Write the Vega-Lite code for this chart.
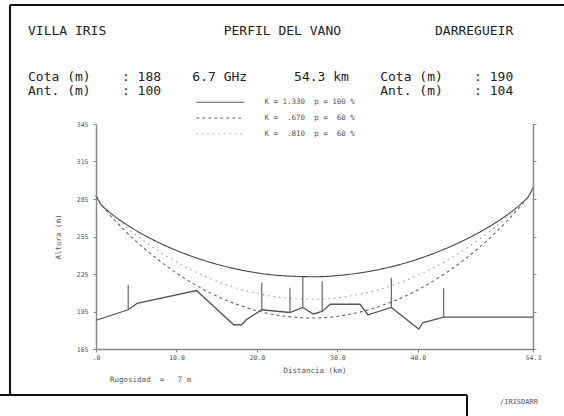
{
  "$schema": "https://vega.github.io/schema/vega-lite/v6.json",
  "width": 437,
  "height": 225,
  "autosize": {"type": "none"},
  "padding": {"left": 96, "top": 124, "right": 31, "bottom": 67},
  "background": "white",
  "config": {"view": {"stroke": null}, "font": "DejaVu Sans Mono"},
  "title": {
    "text": "VILLA\u00a0IRIS\u00a0\u00a0\u00a0\u00a0\u00a0\u00a0\u00a0\u00a0\u00a0\u00a0\u00a0\u00a0\u00a0\u00a0\u00a0PERFIL\u00a0DEL\u00a0VANO\u00a0\u00a0\u00a0\u00a0\u00a0\u00a0\u00a0\u00a0\u00a0\u00a0\u00a0\u00a0DARREGUEIR",
    "subtitle": [
      "Cota\u00a0(m)\u00a0\u00a0\u00a0\u00a0:\u00a0188\u00a0\u00a0\u00a0\u00a06.7\u00a0GHz\u00a0\u00a0\u00a0\u00a0\u00a0\u00a054.3\u00a0km\u00a0\u00a0\u00a0\u00a0Cota\u00a0(m)\u00a0\u00a0\u00a0\u00a0:\u00a0190",
      "Ant.\u00a0(m)\u00a0\u00a0\u00a0\u00a0:\u00a0100\u00a0\u00a0\u00a0\u00a0\u00a0\u00a0\u00a0\u00a0\u00a0\u00a0\u00a0\u00a0\u00a0\u00a0\u00a0\u00a0\u00a0\u00a0\u00a0\u00a0\u00a0\u00a0\u00a0\u00a0\u00a0\u00a0\u00a0\u00a0Ant.\u00a0(m)\u00a0\u00a0\u00a0\u00a0:\u00a0104"
    ],
    "anchor": "start",
    "frame": "group",
    "dx": -68,
    "dy": 94,
    "offset": 0,
    "font": "DejaVu Sans Mono",
    "fontSize": 13,
    "fontWeight": "normal",
    "color": "#222",
    "subtitleFont": "DejaVu Sans Mono",
    "subtitleFontSize": 13,
    "subtitleColor": "#222",
    "subtitleLineHeight": 14,
    "subtitlePadding": 33.5
  },
  "datasets": {
    "curves": [
      {"d": 0, "h": 288, "k": "1.330"}, {"d": 0.5, "h": 281.8, "k": "1.330"}, {"d": 1.5, "h": 275.4, "k": "1.330"},
      {"d": 3, "h": 268.0, "k": "1.330"}, {"d": 5, "h": 259.7, "k": "1.330"}, {"d": 8, "h": 249.5, "k": "1.330"},
      {"d": 11, "h": 241.3, "k": "1.330"}, {"d": 14, "h": 234.7, "k": "1.330"}, {"d": 17, "h": 229.6, "k": "1.330"},
      {"d": 20, "h": 225.9, "k": "1.330"}, {"d": 23, "h": 223.7, "k": "1.330"}, {"d": 27.15, "h": 222.8, "k": "1.330"},
      {"d": 31.3, "h": 224.6, "k": "1.330"}, {"d": 34.3, "h": 227.5, "k": "1.330"}, {"d": 37.3, "h": 231.8, "k": "1.330"},
      {"d": 40.3, "h": 237.6, "k": "1.330"}, {"d": 43.3, "h": 244.9, "k": "1.330"}, {"d": 46.3, "h": 253.8, "k": "1.330"},
      {"d": 49.3, "h": 264.6, "k": "1.330"}, {"d": 51.3, "h": 273.3, "k": "1.330"}, {"d": 52.8, "h": 281.1, "k": "1.330"},
      {"d": 53.8, "h": 287.7, "k": "1.330"}, {"d": 54.3, "h": 294, "k": "1.330"},
      {"d": 0, "h": 288, "k": ".670"}, {"d": 0.5, "h": 282.1, "k": ".670"}, {"d": 1.5, "h": 274.0, "k": ".670"},
      {"d": 3, "h": 263.5, "k": ".670"}, {"d": 5, "h": 251.1, "k": ".670"}, {"d": 8, "h": 235.0, "k": ".670"},
      {"d": 11, "h": 221.5, "k": ".670"}, {"d": 14, "h": 210.5, "k": ".670"}, {"d": 17, "h": 201.9, "k": ".670"},
      {"d": 20, "h": 195.6, "k": ".670"}, {"d": 23, "h": 191.6, "k": ".670"}, {"d": 27.15, "h": 189.8, "k": ".670"},
      {"d": 31.3, "h": 192.5, "k": ".670"}, {"d": 34.3, "h": 197.2, "k": ".670"}, {"d": 37.3, "h": 204.1, "k": ".670"},
      {"d": 40.3, "h": 213.4, "k": ".670"}, {"d": 43.3, "h": 225.1, "k": ".670"}, {"d": 46.3, "h": 239.2, "k": ".670"},
      {"d": 49.3, "h": 256.0, "k": ".670"}, {"d": 51.3, "h": 268.9, "k": ".670"}, {"d": 52.8, "h": 279.7, "k": ".670"},
      {"d": 53.8, "h": 288.0, "k": ".670"}, {"d": 54.3, "h": 294, "k": ".670"},
      {"d": 0, "h": 288, "k": ".810"}, {"d": 0.5, "h": 282.6, "k": ".810"}, {"d": 1.5, "h": 275.6, "k": ".810"},
      {"d": 3, "h": 266.7, "k": ".810"}, {"d": 5, "h": 256.1, "k": ".810"}, {"d": 8, "h": 242.5, "k": ".810"},
      {"d": 11, "h": 231.2, "k": ".810"}, {"d": 14, "h": 221.9, "k": ".810"}, {"d": 17, "h": 214.7, "k": ".810"},
      {"d": 20, "h": 209.5, "k": ".810"}, {"d": 23, "h": 206.2, "k": ".810"}, {"d": 27.15, "h": 204.8, "k": ".810"},
      {"d": 31.3, "h": 207.1, "k": ".810"}, {"d": 34.3, "h": 211.0, "k": ".810"}, {"d": 37.3, "h": 217.0, "k": ".810"},
      {"d": 40.3, "h": 224.8, "k": ".810"}, {"d": 43.3, "h": 234.7, "k": ".810"}, {"d": 46.3, "h": 246.7, "k": ".810"},
      {"d": 49.3, "h": 261.0, "k": ".810"}, {"d": 51.3, "h": 272.0, "k": ".810"}, {"d": 52.8, "h": 281.3, "k": ".810"},
      {"d": 53.8, "h": 288.5, "k": ".810"}, {"d": 54.3, "h": 294, "k": ".810"}
    ],
    "terrain": [
      {"d": 0, "h": 188}, {"d": 4.0, "h": 196.4}, {"d": 5.1, "h": 201.5}, {"d": 12.5, "h": 211.8},
      {"d": 17.1, "h": 184.4}, {"d": 18.1, "h": 184.4}, {"d": 18.7, "h": 188.5}, {"d": 20.6, "h": 196.4},
      {"d": 24.1, "h": 194.2}, {"d": 25.7, "h": 198.2}, {"d": 27.0, "h": 193.0}, {"d": 28.1, "h": 195.0},
      {"d": 29.1, "h": 200.8}, {"d": 32.8, "h": 200.8}, {"d": 33.8, "h": 192.4}, {"d": 36.7, "h": 198.2},
      {"d": 40.1, "h": 181.0}, {"d": 40.6, "h": 186.0}, {"d": 43.2, "h": 190.5}, {"d": 54.3, "h": 190.5}
    ],
    "spikes": [
      {"d": 4.0, "base": 196.4, "top": 216.4}, {"d": 20.6, "base": 196.4, "top": 218.2},
      {"d": 24.1, "base": 194.2, "top": 214.0}, {"d": 25.7, "base": 198.2, "top": 223.3},
      {"d": 28.1, "base": 195.0, "top": 219.0}, {"d": 36.7, "base": 198.2, "top": 222.0},
      {"d": 43.2, "base": 190.5, "top": 213.7}
    ],
    "one": [{"a": 1}],
    "rug": [{"note": "Rugosidad\u00a0\u00a0=\u00a0\u00a0\u00a07\u00a0m"}],
    "file": [{"note": "/IRISDARR"}]
  },
  "layer": [
    {
      "data": {"name": "curves"},
      "mark": {"type": "line", "interpolate": "monotone", "strokeWidth": 1.1},
      "encoding": {
        "x": {
          "field": "d", "type": "quantitative",
          "scale": {"domain": [0, 54.3], "nice": false, "zero": false},
          "axis": {
            "values": [0, 10, 20, 30, 40, 54.3],
            "labelExpr": "datum.value == 0 ? '\u00a0\u00a0.0' : format(datum.value, '.1f')",
            "title": "Distancia (km)",
            "titleFont": "DejaVu Sans Mono", "titleFontSize": 7.5, "titleFontWeight": "normal", "titleColor": "#555", "titlePadding": 6,
            "labelFont": "DejaVu Sans Mono", "labelFontSize": 6.5, "labelColor": "#555", "labelPadding": 2,
            "labelOverlap": false, "labelFlush": false, "labelBound": false,
            "tickSize": 3, "tickColor": "#888", "domainColor": "#888", "domainWidth": 1.5, "grid": false
          }
        },
        "y": {
          "field": "h", "type": "quantitative",
          "scale": {"domain": [165, 345], "nice": false, "zero": false},
          "axis": {
            "values": [165, 195, 225, 255, 285, 315, 345], "format": "d",
            "title": "Altura (m)",
            "titleFont": "DejaVu Sans Mono", "titleFontSize": 7.5, "titleFontWeight": "normal", "titleColor": "#555", "titlePadding": 14,
            "labelFont": "DejaVu Sans Mono", "labelFontSize": 6.5, "labelColor": "#555", "labelPadding": 5,
            "tickSize": 3, "tickColor": "#888", "domainColor": "#888", "domainWidth": 1.5, "grid": false
          }
        },
        "color": {
          "field": "k", "type": "nominal",
          "scale": {"domain": ["1.330", ".670", ".810"], "range": ["#444", "#666", "#9a9a9a"]},
          "legend": {
            "orient": "none", "legendX": 120.5, "legendY": -25.5, "title": null,
            "symbolType": "M-12,0H12", "symbolSize": 16, "symbolStrokeWidth": 1,
            "labelFont": "DejaVu Sans Mono", "labelFontSize": 7.5, "labelColor": "#555", "labelOffset": 40.5, "rowPadding": 6.8,
            "labelExpr": "datum.label == '1.330' ? 'K\u00a0=\u00a01.330\u00a0\u00a0p\u00a0=\u00a0100\u00a0%' : datum.label == '.670' ? 'K\u00a0=\u00a0\u00a0.670\u00a0\u00a0p\u00a0=\u00a0\u00a060\u00a0%' : 'K\u00a0=\u00a0\u00a0.810\u00a0\u00a0p\u00a0=\u00a0\u00a060\u00a0%'"
          }
        },
        "strokeDash": {
          "field": "k", "type": "nominal",
          "scale": {"domain": ["1.330", ".670", ".810"], "range": [[1, 0], [3, 3], [1.5, 4]]},
          "legend": {
            "orient": "none", "legendX": 120.5, "legendY": -25.5, "title": null,
            "symbolType": "M-12,0H12", "symbolSize": 16, "symbolStrokeWidth": 1,
            "labelFont": "DejaVu Sans Mono", "labelFontSize": 7.5, "labelColor": "#555", "labelOffset": 40.5, "rowPadding": 6.8,
            "labelExpr": "datum.label == '1.330' ? 'K\u00a0=\u00a01.330\u00a0\u00a0p\u00a0=\u00a0100\u00a0%' : datum.label == '.670' ? 'K\u00a0=\u00a0\u00a0.670\u00a0\u00a0p\u00a0=\u00a0\u00a060\u00a0%' : 'K\u00a0=\u00a0\u00a0.810\u00a0\u00a0p\u00a0=\u00a0\u00a060\u00a0%'"
          }
        }
      }
    },
    {
      "data": {"name": "terrain"},
      "mark": {"type": "line", "color": "#555", "strokeWidth": 1.3},
      "encoding": {
        "x": {"field": "d", "type": "quantitative", "scale": {"domain": [0, 54.3], "nice": false, "zero": false}},
        "y": {
          "field": "h", "type": "quantitative",
          "scale": {"domain": [165, 345], "nice": false, "zero": false},
          "axis": {
            "orient": "right", "values": [165, 195, 225, 255, 285, 315, 345], "labels": false, "title": null,
            "tickSize": 3, "tickColor": "#888", "domainColor": "#888", "domainWidth": 1.5, "grid": false
          }
        }
      }
    },
    {
      "data": {"name": "spikes"},
      "mark": {"type": "rule", "color": "#666", "strokeWidth": 1.2},
      "encoding": {
        "x": {"field": "d", "type": "quantitative", "scale": {"domain": [0, 54.3], "nice": false, "zero": false}},
        "y": {"field": "base", "type": "quantitative", "scale": {"domain": [165, 345], "nice": false, "zero": false}, "axis": null},
        "y2": {"field": "top"}
      }
    },
    {
      "data": {"name": "rug"},
      "mark": {"type": "text", "align": "left", "baseline": "middle", "font": "DejaVu Sans Mono", "fontSize": 7.5, "color": "#555"},
      "encoding": {
        "x": {"datum": 1.74, "type": "quantitative", "scale": {"domain": [0, 54.3], "nice": false, "zero": false}},
        "y": {"datum": 140.5, "type": "quantitative", "scale": {"domain": [165, 345], "nice": false, "zero": false}, "axis": null},
        "text": {"field": "note"}
      }
    },
    {
      "data": {"name": "file"},
      "mark": {"type": "text", "align": "left", "baseline": "middle", "font": "DejaVu Sans Mono", "fontSize": 7, "color": "#555"},
      "encoding": {
        "x": {"datum": 50.2, "type": "quantitative", "scale": {"domain": [0, 54.3], "nice": false, "zero": false}},
        "y": {"datum": 122.8, "type": "quantitative", "scale": {"domain": [165, 345], "nice": false, "zero": false}, "axis": null},
        "text": {"field": "note"}
      }
    },
    {
      "data": {"name": "one"},
      "mark": {"type": "rule", "color": "#111", "strokeWidth": 2},
      "encoding": {
        "x": {"datum": -10.69, "type": "quantitative", "scale": {"domain": [0, 54.3], "nice": false, "zero": false}},
        "y": {"datum": 440.2, "type": "quantitative", "scale": {"domain": [165, 345], "nice": false, "zero": false}, "axis": null},
        "y2": {"datum": 128.2}
      }
    },
    {
      "data": {"name": "one"},
      "mark": {"type": "rule", "color": "#111", "strokeWidth": 2},
      "encoding": {
        "x": {"datum": -10.69, "type": "quantitative", "scale": {"domain": [0, 54.3], "nice": false, "zero": false}},
        "x2": {"datum": 58.15},
        "y": {"datum": 440.2, "type": "quantitative", "scale": {"domain": [165, 345], "nice": false, "zero": false}, "axis": null}
      }
    },
    {
      "data": {"name": "one"},
      "mark": {"type": "rule", "color": "#111", "strokeWidth": 2},
      "encoding": {
        "x": {"datum": -11.93, "type": "quantitative", "scale": {"domain": [0, 54.3], "nice": false, "zero": false}},
        "x2": {"datum": 46.1},
        "y": {"datum": 128.2, "type": "quantitative", "scale": {"domain": [165, 345], "nice": false, "zero": false}, "axis": null}
      }
    },
    {
      "data": {"name": "one"},
      "mark": {"type": "rule", "color": "#111", "strokeWidth": 2},
      "encoding": {
        "x": {"datum": 46.1, "type": "quantitative", "scale": {"domain": [0, 54.3], "nice": false, "zero": false}},
        "y": {"datum": 128.2, "type": "quantitative", "scale": {"domain": [165, 345], "nice": false, "zero": false}, "axis": null},
        "y2": {"datum": 111.4}
      }
    }
  ],
  "resolve": {"axis": {"y": "independent"}}
}
